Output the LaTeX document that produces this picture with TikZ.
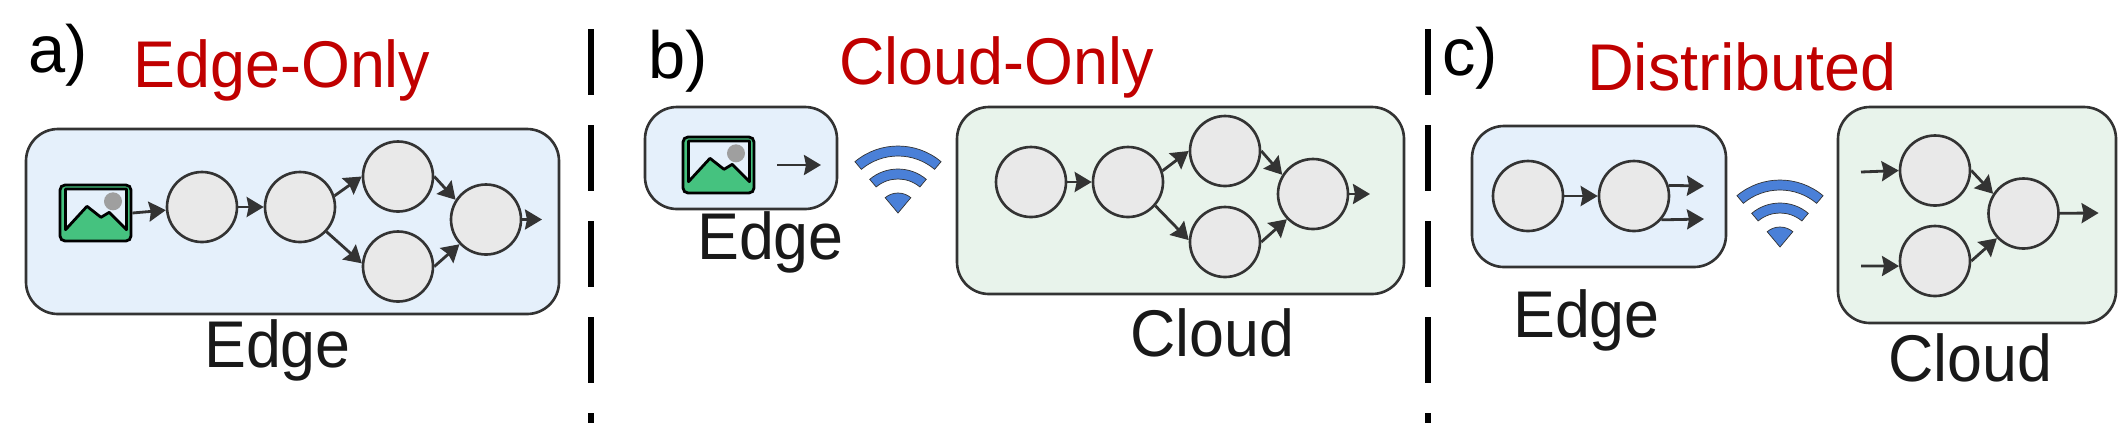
\documentclass[tikz,border=0pt]{standalone}
\usepackage{xcolor}
\usepackage{fontspec}
\usepackage{tikz}
\usetikzlibrary{arrows.meta}
\usetikzlibrary{positioning}
\setmainfont{Liberation Sans}
\definecolor{edgeblue}{HTML}{E5F0FB}
\definecolor{cloudgreen}{HTML}{E8F3EB}
\definecolor{nodegray}{HTML}{E9E9E9}
\definecolor{linegray}{HTML}{333333}
\definecolor{titlered}{HTML}{C00000}
\definecolor{wifiblue}{HTML}{4A80D8}
\definecolor{photogreen}{HTML}{45C27F}
\tikzset{>=latex}
\tikzset{
  flow/.style = {-{Stealth[length=1.7mm,width=2mm,inset=0.2mm]}, draw=linegray, line width=0.8pt},
  layer/.style = {circle, inner sep=0pt, minimum size=0.70cm, draw=linegray, line width=0.75pt, fill=nodegray},
  edgebox/.style = {rectangle, rounded corners=0.32cm, draw=linegray, line width=0.75pt, fill=edgeblue},
  cloudbox/.style = {rectangle, rounded corners=0.32cm, draw=linegray, line width=0.75pt, fill=cloudgreen},
  photonode/.style = {rectangle, rounded corners=0.05cm, inner sep=0pt, minimum width=0.71cm, minimum height=0.56cm, draw=black, line width=0.8pt, fill=photogreen},
  sidelabel/.style = {anchor=base, inner sep=0pt, text=black!90, xscale=0.95, font=\fontsize{18.8}{22}\selectfont},
  titlelabel/.style = {sidelabel, text=titlered},
  panellabel/.style = {anchor=base, inner sep=0pt, text=black, font=\fontsize{19}{22}\selectfont},
  divider/.style = {draw=black, line width=1.6pt, dash pattern=on 0.66cm off 0.30cm},
  photo/.pic = {
    \fill [#1] (-0.30,-0.167) -- (-0.30,0.24) -- (0.31,0.24) -- (0.31,-0.167) -- (0.138,0.007) -- (0.055,-0.043) -- (-0.085,0.067) -- cycle;
    \draw [black, line width=0.8pt, line join=round] (-0.30,-0.167) -- (-0.30,0.24) -- (0.31,0.24) -- (0.31,-0.167) -- (0.138,0.007) -- (0.055,-0.043) -- (-0.085,0.067) -- cycle;
    \fill [gray!75] (0.175,0.117) circle (0.09);
  },
  wifi/.pic = {
    \filldraw [fill=wifiblue, draw=linegray, line width=0.2pt] (50:0.67) arc (50:130:0.67) -- (130:0.57) arc (130:50:0.57) -- cycle;
    \filldraw [fill=wifiblue, draw=linegray, line width=0.2pt] (50:0.44) arc (50:130:0.44) -- (130:0.34) arc (130:50:0.34) -- cycle;
    \filldraw [fill=wifiblue, draw=linegray, line width=0.2pt] (0,0) -- (50:0.20) arc (50:130:0.20) -- cycle;
  }
}

\begin{document}
\begin{tikzpicture}
\useasboundingbox (0,0) rectangle (21.18,4.26);

\node [panellabel] (LabelA) at (0.58, 3.54) {a)};
\node [titlelabel] (TitleA) at (2.82, 3.39) {Edge-Only};
\node [edgebox, minimum width=5.33cm, minimum height=1.85cm] (BoxA) at (2.925, 2.045) {};
\node [sidelabel] (NameA) at (2.775, 0.59) {Edge};
\node [photonode] (ImgA) at (0.955, 2.13) {};
\pic at (ImgA) {photo={edgeblue}};
\node [layer] (A1) at (2.02, 2.19) {};
\node [layer] (A2) at (3.00, 2.19) {};
\node [layer] (A3) at (3.98, 2.495) {};
\node [layer] (A4) at (3.98, 1.595) {};
\node [layer] (A5) at (4.86, 2.065) {};
\coordinate (AOut) at (5.42, 2.065);
\draw [flow] (ImgA.east) -- (A1);
\draw [flow] (A1) -- (A2);
\draw [flow] (A2.18) -- (A3.180);
\draw [flow] (A2.-43) -- (A4.175);
\draw [flow] (A3.0) -- (A5.147);
\draw [flow] (A4.0) -- (A5.223);
\draw [flow] (A5) -- (AOut);

\coordinate (DivTopA) at (5.91, 3.97);
\coordinate (DivEndA) at (5.91, 0.03);
\draw [divider] (DivTopA) -- (DivEndA);

\node [panellabel] (LabelB) at (6.78, 3.48) {b)};
\node [titlelabel] (TitleB) at (9.965, 3.42) {Cloud-Only};
\node [edgebox, minimum width=1.92cm, minimum height=1.02cm] (EdgeB) at (7.41, 2.68) {};
\node [sidelabel] (NameEdgeB) at (7.705, 1.67) {Edge};
\node [photonode] (ImgB) at (7.185, 2.61) {};
\pic at (ImgB) {photo={edgeblue}};
\coordinate (BSend) at (7.77, 2.61);
\coordinate (BSendEnd) at (8.21, 2.61);
\draw [flow] (BSend) -- (BSendEnd);
\pic at (8.98, 2.13) {wifi};
\node [cloudbox, minimum width=4.47cm, minimum height=1.87cm] (CloudB) at (11.805, 2.255) {};
\node [sidelabel] (NameCloudB) at (12.12, 0.70) {Cloud};
\node [layer] (B1) at (10.31, 2.44) {};
\node [layer] (B2) at (11.28, 2.44) {};
\node [layer] (B3) at (12.25, 2.75) {};
\node [layer] (B4) at (12.25, 1.84) {};
\node [layer] (B5) at (13.13, 2.32) {};
\coordinate (BOut) at (13.70, 2.32);
\draw [flow] (B1) -- (B2);
\draw [flow] (B2.18) -- (B3.180);
\draw [flow] (B2.-41) -- (B4.177);
\draw [flow] (B3.0) -- (B5.148);
\draw [flow] (B4.0) -- (B5.224);
\draw [flow] (B5) -- (BOut);

\coordinate (DivTopB) at (14.28, 3.97);
\coordinate (DivEndB) at (14.28, 0.03);
\draw [divider] (DivTopB) -- (DivEndB);

\node [panellabel] (LabelC) at (14.70, 3.51) {c)};
\node [titlelabel, xscale=1.032] (TitleC) at (17.42, 3.36) {Distributed};
\node [edgebox, minimum width=2.54cm, minimum height=1.41cm] (EdgeC) at (15.99, 2.295) {};
\node [sidelabel] (NameEdgeC) at (15.865, 0.89) {Edge};
\node [layer] (C1) at (15.28, 2.30) {};
\node [layer] (C2) at (16.34, 2.30) {};
\coordinate (COutA) at (17.04, 2.40);
\coordinate (COutB) at (17.04, 2.07);
\draw [flow] (C1) -- (C2);
\draw [flow] (C2.17) -- (COutA);
\draw [flow] (C2.-41) -- (COutB);
\pic at (17.80, 1.79) {wifi};
\node [cloudbox, minimum width=2.78cm, minimum height=2.16cm] (CloudC) at (19.77, 2.11) {};
\node [sidelabel] (NameCloudC) at (19.705, 0.45) {Cloud};
\node [layer] (C3) at (19.35, 2.555) {};
\node [layer] (C4) at (19.35, 1.65) {};
\node [layer] (C5) at (20.235, 2.125) {};
\coordinate (CInA) at (18.61, 2.54);
\coordinate (CInB) at (18.61, 1.60);
\coordinate (COut) at (20.986, 2.13);
\draw [flow] (CInA) -- (C3.180);
\draw [flow] (CInB) -- (C4.188);
\draw [flow] (C3.0) -- (C5.147);
\draw [flow] (C4.0) -- (C5.223);
\draw [flow] (C5) -- (COut);
\end{tikzpicture}
\end{document}
